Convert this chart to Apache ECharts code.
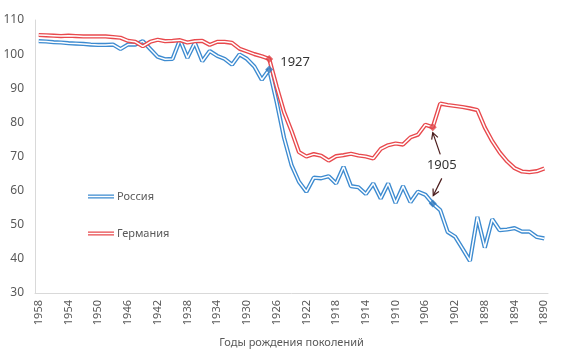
<!DOCTYPE html>
<html>
<head>
<meta charset="utf-8">
<script src="https://cdn.jsdelivr.net/npm/echarts@6/dist/echarts.min.js"></script>
<style>
html,body{margin:0;padding:0;background:#fff;}
#chart{width:563px;height:361px;}
</style>
</head>
<body>
<div id="chart"></div>
<script>
// Birth years of generations (x axis, descending)
const years = [];
for (let y = 1958; y >= 1890; y--) years.push(String(y));

const russia = [
  103.8, 103.7, 103.5, 103.4, 103.2, 103.1, 103.0, 102.8, 102.7, 102.7,
  102.8, 101.5, 102.8, 102.8, 103.8, 101.5, 99.2, 98.5, 98.6, 104.2,
  98.9, 103.3, 97.9, 100.9, 99.5, 98.6, 96.9, 99.9, 98.6, 96.4,
  92.5, 95.5, 86.0, 75.5, 67.5, 62.6, 59.7, 63.8, 63.6, 64.2,
  62.1, 67.0, 61.3, 61.0, 59.0, 62.1, 57.7, 62.1, 56.4, 61.3,
  56.6, 59.7, 58.8, 56.2, 54.3, 47.9, 46.5, 43.0, 39.4, 52.3,
  43.3, 51.6, 48.4, 48.6, 49.0, 48.0, 48.0, 46.4, 46.0
];

const germany = [
  105.6, 105.5, 105.4, 105.3, 105.4, 105.3, 105.2, 105.2, 105.2, 105.2,
  105.0, 104.8, 103.9, 103.6, 102.3, 103.6, 104.2, 103.8, 103.9, 104.1,
  103.4, 103.8, 103.9, 102.7, 103.6, 103.6, 103.3, 101.6, 100.8, 100.0,
  99.4, 98.6, 90.5, 83.0, 77.5, 71.3, 70.0, 70.7, 70.2, 68.8,
  70.1, 70.4, 70.8, 70.3, 70.0, 69.4, 72.2, 73.3, 73.8, 73.5,
  75.6, 76.4, 79.3, 78.6, 85.5, 85.1, 84.8, 84.5, 84.1, 83.6,
  78.5, 74.5, 71.2, 68.6, 66.6, 65.6, 65.4, 65.7, 66.5
];

const highlightYears = ['1927', '1905'];
const seriesNames = ['Россия', 'Германия'];
const xAxisTitle = 'Годы рождения поколений';

const BLUE = '#3d8bd0';
const RED = '#e8494d';
const FONT = '"Noto Sans", "Open Sans", sans-serif';

const chart = echarts.init(document.getElementById('chart'), null, {renderer: 'canvas'});

function pts(arr) {
  return highlightYears.map(y => [y, arr[years.indexOf(y)]]);
}

const legendIcon = 'path://M0,0H26V1.4H0Z M0,2.8H26V4.2H0Z';

const option = {
  animation: false,
  backgroundColor: '#fff',
  textStyle: {fontFamily: FONT},
  grid: {left: 35, right: 15, top: 20, bottom: 68},
  legend: {
    data: seriesNames,
    orient: 'vertical',
    left: 83,
    top: 186,
    itemGap: 26,
    itemWidth: 26,
    itemHeight: 4.2,
    icon: legendIcon,
    textStyle: {color: '#595959', fontSize: 11, fontFamily: FONT, padding: [0,0,0,-2]}
  },
  xAxis: {
    type: 'category',
    data: years,
    boundaryGap: true,
    axisLine: {show: true, lineStyle: {color: '#d9d9d9', width: 1}},
    axisTick: {show: false},
    axisLabel: {interval: 3, rotate: 90, margin: 7, fontSize: 11, color: '#595959', fontFamily: FONT},
    name: xAxisTitle,
    nameLocation: 'middle',
    nameGap: 44,
    nameTextStyle: {color: '#595959', fontSize: 11, fontFamily: FONT},
    splitLine: {show: false}
  },
  yAxis: {
    type: 'value',
    min: 30, max: 110, interval: 10,
    axisLine: {show: true, lineStyle: {color: '#d9d9d9', width: 1}},
    axisTick: {show: false},
    splitLine: {show: false},
    axisLabel: {fontSize: 12, color: '#595959', margin: 11, fontFamily: FONT}
  },
  series: [
    {name: seriesNames[0], type: 'line', data: russia, symbol: 'none', z: 2,
     itemStyle: {color: BLUE}, lineStyle: {color: BLUE, width: 4.2}},
    {name: '_ru_inner', type: 'line', data: russia, symbol: 'none', z: 3, silent: true,
     itemStyle: {color: '#fff'}, lineStyle: {color: '#fff', width: 1.5}},
    {name: seriesNames[1], type: 'line', data: germany, symbol: 'none', z: 4,
     itemStyle: {color: RED}, lineStyle: {color: RED, width: 4.2}},
    {name: '_de_inner', type: 'line', data: germany, symbol: 'none', z: 5, silent: true,
     itemStyle: {color: '#fff'}, lineStyle: {color: '#fff', width: 1.5}},
    {name: '_ru_mark', type: 'scatter', data: pts(russia), symbol: 'diamond', symbolSize: 8, z: 6,
     itemStyle: {color: '#2f78bd'}},
    {name: '_de_mark', type: 'scatter', data: pts(germany), symbol: 'diamond', symbolSize: 8, z: 6,
     itemStyle: {color: '#df4347'}}
  ]
};
chart.setOption(option);

// Annotations anchored to data points
function px(arr, year) {
  const i = years.indexOf(year);
  return chart.convertToPixel({xAxisIndex: 0, yAxisIndex: 0}, [i, arr[i]]);
}
function arrow(tail, head, color) {
  const dx = tail[0] - head[0], dy = tail[1] - head[1];
  const len = Math.sqrt(dx*dx + dy*dy);
  const ux = dx/len, uy = dy/len;
  const a = 28 * Math.PI / 180, L = 7;
  const p1 = [head[0] + L*(ux*Math.cos(a) - uy*Math.sin(a)), head[1] + L*(ux*Math.sin(a) + uy*Math.cos(a))];
  const p2 = [head[0] + L*(ux*Math.cos(-a) - uy*Math.sin(-a)), head[1] + L*(ux*Math.sin(-a) + uy*Math.cos(-a))];
  return [
    {type: 'line', shape: {x1: tail[0], y1: tail[1], x2: head[0], y2: head[1]}, style: {stroke: color, lineWidth: 1.2}, z: 10},
    {type: 'polyline', shape: {points: [p1, head, p2]}, style: {stroke: color, lineWidth: 1.2, fill: null}, z: 10}
  ];
}
const r27 = px(germany, '1927');
const r05 = px(germany, '1905');
const b05 = px(russia, '1905');
const tx = r05[0] + 9, ty = (r05[1] + b05[1]) / 2;
const ARROW = '#4a1c1c';
const graphics = [
  {type: 'text', x: r27[0] + 11, y: r27[1] + 3, z: 10,
   style: {text: '1927', fill: '#333', font: '13px ' + FONT, textVerticalAlign: 'middle', textAlign: 'left'}},
  {type: 'text', x: tx, y: ty, z: 10,
   style: {text: '1905', fill: '#333', font: '13px ' + FONT, textVerticalAlign: 'middle', textAlign: 'center'}}
].concat(
  arrow([tx - 1.5, ty - 11], [r05[0], r05[1] + 5.5], ARROW),
  arrow([tx, ty + 13], [b05[0] + 0.5, b05[1] - 8], ARROW)
);
chart.setOption({graphic: graphics});
</script>
</body>
</html>
